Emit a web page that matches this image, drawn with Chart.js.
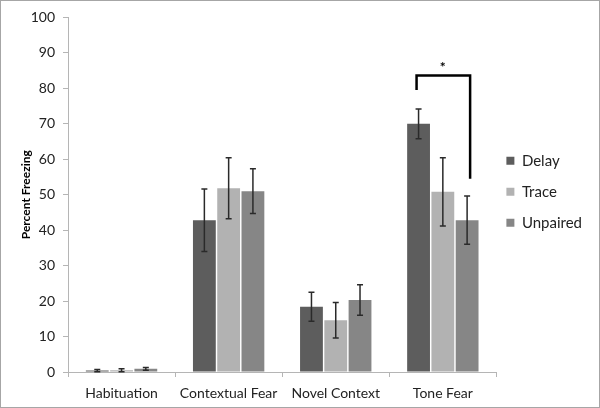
<!DOCTYPE html>
<html>
<head>
<meta charset="utf-8">
<script src="https://cdn.jsdelivr.net/npm/chart.js@4.4.0/dist/chart.umd.min.js"></script>
<style>
  html, body { margin: 0; padding: 0; background: #fff; }
  #wrap { width: 600px; height: 408px; box-sizing: border-box; border: 1px solid #a6a6a6; position: relative; }
</style>
</head>
<body>
<div id="wrap"><canvas id="freezeChart"></canvas></div>
<script>
const categories = ['Habituation', 'Contextual Fear', 'Novel Context', 'Tone Fear'];
const delayValues = [0.4, 42.8, 18.4, 70.0];
const delayErrors = [0.3, 8.8, 4.1, 4.2];
const traceValues = [0.5, 51.8, 14.6, 50.8];
const traceErrors = [0.4, 8.6, 5.0, 9.6];
const unpairedValues = [0.9, 51.0, 20.3, 42.8];
const unpairedErrors = [0.4, 6.3, 4.3, 6.8];
const yTicks = [0, 10, 20, 30, 40, 50, 60, 70, 80, 90, 100];

// significance bracket between Delay and Unpaired on Tone Fear
const bracketCategory = 3;
const bracketTop = 83.6;
const bracketLeftEnd = 79.5;
const bracketRightEnd = 54.5;

const FONT = 'Lato, "Open Sans", sans-serif';

const errorBars = {
    id: 'errorBars',
    afterDatasetsDraw(chart) {
        const ctx = chart.ctx;
        const y = chart.scales.y;
        ctx.save();
        ctx.strokeStyle = '#2a2a2a';
        ctx.lineWidth = 1.5;
        chart.data.datasets.forEach((ds, i) => {
            const meta = chart.getDatasetMeta(i);
            meta.data.forEach((bar, j) => {
                const v = ds.data[j];
                const e = ds.errors[j];
                const top = y.getPixelForValue(v + e);
                const bot = y.getPixelForValue(Math.max(0, v - e));
                ctx.beginPath();
                ctx.moveTo(bar.x, top);
                ctx.lineTo(bar.x, bot);
                ctx.moveTo(bar.x - 3, top);
                ctx.lineTo(bar.x + 3, top);
                ctx.moveTo(bar.x - 3, bot);
                ctx.lineTo(bar.x + 3, bot);
                ctx.stroke();
            });
        });

        const left = chart.getDatasetMeta(0).data[bracketCategory];
        const right = chart.getDatasetMeta(2).data[bracketCategory];
        const yTop = y.getPixelForValue(bracketTop);
        ctx.strokeStyle = '#000';
        ctx.lineWidth = 2.5;
        ctx.beginPath();
        ctx.moveTo(left.x - 2, y.getPixelForValue(bracketLeftEnd));
        ctx.lineTo(left.x - 2, yTop);
        ctx.lineTo(right.x + 3, yTop);
        ctx.lineTo(right.x + 3, y.getPixelForValue(bracketRightEnd));
        ctx.stroke();
        ctx.fillStyle = '#000';
        ctx.font = 'bold 14px ' + FONT;
        ctx.textAlign = 'center';
        ctx.textBaseline = 'bottom';
        ctx.fillText('*', (left.x + right.x) / 2, yTop - 1);
        ctx.restore();
    }
};

new Chart(document.getElementById('freezeChart'), {
    type: 'bar',
    data: {
        labels: categories,
        datasets: [
            { label: 'Delay', data: delayValues, errors: delayErrors, backgroundColor: '#5d5d5d' },
            { label: 'Trace', data: traceValues, errors: traceErrors, backgroundColor: '#b2b2b2' },
            { label: 'Unpaired', data: unpairedValues, errors: unpairedErrors, backgroundColor: '#868686' }
        ]
    },
    options: {
        responsive: true,
        maintainAspectRatio: false,
        animation: false,
        datasets: {
            bar: { categoryPercentage: 0.68, barPercentage: 0.94 }
        },
        layout: { padding: { top: 10, left: 10, right: 7, bottom: 1 } },
        scales: {
            x: {
                afterFit: axis => { axis.height = 34; },
                grid: { drawOnChartArea: false, color: '#b5b5b5', tickLength: 5 },
                border: { color: '#b5b5b5' },
                ticks: { color: '#222', font: { family: FONT, size: 14 }, padding: 8 }
            },
            y: {
                min: 0,
                max: 100,
                afterBuildTicks: axis => { axis.ticks = yTicks.map(v => ({ value: v })); },
                afterFit: axis => { axis.width = 57; },
                grid: { drawOnChartArea: false, color: '#b5b5b5', tickLength: 5 },
                border: { color: '#b5b5b5' },
                ticks: { color: '#222', font: { family: FONT, size: 14 }, padding: 8 },
                title: {
                    display: true,
                    text: 'Percent Freezing',
                    color: '#000',
                    font: { family: FONT, size: 12, weight: 'bold' },
                    padding: { top: 8, bottom: 0 }
                }
            }
        },
        plugins: {
            legend: {
                position: 'right',
                fullSize: false,
                labels: {
                    boxWidth: 8,
                    boxHeight: 8,
                    padding: 10,
                    color: '#222',
                    font: { family: FONT, size: 15, lineHeight: 1.4 },
                    // one-line arrays so the row height follows lineHeight
                    generateLabels: chart => Chart.defaults.plugins.legend.labels.generateLabels(chart)
                        .map(item => Object.assign(item, { text: [item.text] }))
                }
            },
            tooltip: { enabled: false }
        }
    },
    plugins: [errorBars]
});
</script>
</body>
</html>
